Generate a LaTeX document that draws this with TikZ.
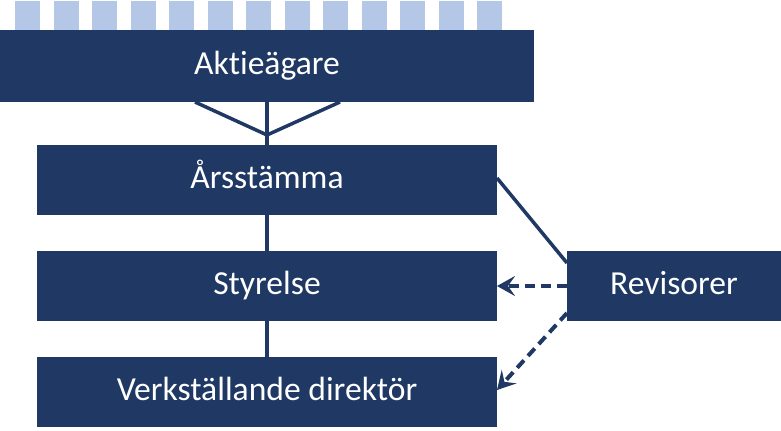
\documentclass[tikz,border=0pt]{standalone}
\usepackage{fontspec}
\setsansfont{Carlito}[Ligatures=NoCommon]
\usepackage{tikz}
\usetikzlibrary{arrows.meta}
\usetikzlibrary{calc}
\usetikzlibrary{positioning}
\usepackage{xcolor}
\definecolor{mynavy}{HTML}{1F3864}
\definecolor{mystripe}{HTML}{B4C7E7}
\tikzset{node distance=18pt, every text node part/.style={align=center, font={\sffamily\fontsize{16.8pt}{20pt}\selectfont}}}
\tikzstyle{block} = [fill=mynavy, text=white, outer sep=0pt, inner sep=0pt, text height=11.5pt, text depth=3.5pt, minimum width=230pt, minimum height=35pt]
\tikzstyle{ln} = [draw=mynavy, line width=1.75pt]

\begin{document}
\begin{tikzpicture}[dashln/.style={ln, line width=2pt, dash pattern=on 5pt off 3pt, -{Stealth[length=9pt,width=10pt,inset=3.5pt]}}]
    \useasboundingbox (0,0) rectangle (390.5pt,-215pt);
    % Nodes
    \node[block, minimum width=267pt, minimum height=36pt] (owners) at (133.5pt,-33pt) {Aktieägare};
    \node[block, below=21.5pt of owners] (agm) {Årsstämma};
    \node[block, below=of agm] (board) {Styrelse};
    \node[block, below=of board] (ceo) {Verkställande direktör};
    \node[block, minimum width=107pt, right=35pt of board] (auditors) {Revisorer};

    % Stripes above the owners
    \foreach \i in {0,...,12}
        \fill[mystripe] ($(owners.north west)+(7.5pt+\i*19.25pt,0)$) rectangle +(12.5pt,14.5pt);

    % Paths
    \coordinate (join) at ($(owners.south)+(0,-16.5pt)$);
    \draw[ln] ($(owners.south)+(-36pt,0)$) -- (join) -- ($(owners.south)+(36.5pt,0)$);
    \draw[ln] (owners) -- (agm);
    \draw[ln] (agm) -- (board);
    \draw[ln] (board) -- (ceo);
    \draw[ln] ($(agm.east)+(0,1pt)$) -- ($(auditors.north west)+(0,-6pt)$);
    \draw[dashln] (auditors) -- (board);
    \draw[dashln] ($(auditors.south west)+(0,4pt)$) -- ($(ceo.east)+(0,1pt)$);
\end{tikzpicture}
\end{document}
